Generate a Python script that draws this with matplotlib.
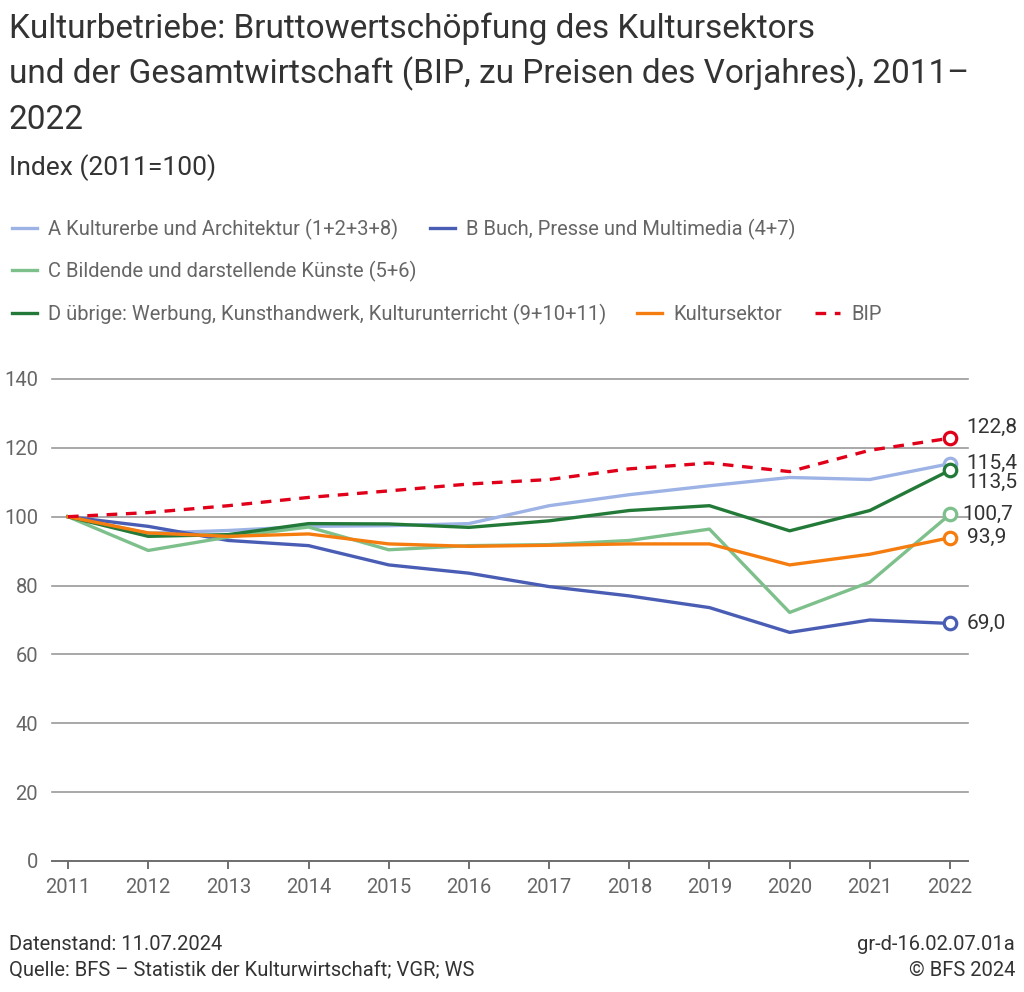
import matplotlib
matplotlib.use("Agg")
import matplotlib.pyplot as plt
from matplotlib.lines import Line2D

plt.rcParams['font.family'] = ['Roboto', 'DejaVu Sans']

years = [2011, 2012, 2013, 2014, 2015, 2016, 2017, 2018, 2019, 2020, 2021, 2022]

series_names = [
    "A Kulturerbe und Architektur (1+2+3+8)",
    "B Buch, Presse und Multimedia (4+7)",
    "C Bildende und darstellende Künste (5+6)",
    "D übrige: Werbung, Kunsthandwerk, Kulturunterricht (9+10+11)",
    "Kultursektor",
    "BIP",
]

a_values = [100, 95.2, 96.0, 97.2, 97.4, 98.0, 103.2, 106.4, 109.0, 111.4, 110.8, 115.4]
b_values = [100, 97.2, 93.1, 91.6, 86.0, 83.6, 79.7, 77.0, 73.6, 66.4, 70.0, 69.0]
c_values = [100, 90.2, 94.1, 97.0, 90.4, 91.6, 91.9, 93.1, 96.4, 72.2, 81.0, 100.7]
d_values = [100, 94.3, 94.8, 98.0, 97.9, 96.9, 98.8, 101.8, 103.2, 95.9, 101.8, 113.5]
kultur_values = [100, 95.3, 94.3, 95.0, 92.1, 91.4, 91.7, 92.1, 92.1, 86.0, 89.1, 93.9]
bip_values = [100, 101.2, 103.2, 105.6, 107.5, 109.5, 110.8, 113.9, 115.6, 113.1, 119.3, 122.8]

end_labels = ["115,4", "69,0", "100,7", "113,5", "93,9", "122,8"]

y_ticks = [0, 20, 40, 60, 80, 100, 120, 140]

colors = ["#9db3e6", "#4a5db5", "#7ec08c", "#237a38", "#f57d0f", "#e1001a"]
styles = ["-", "-", "-", "-", "-", (0, (3.2, 2.6))]
label_offsets_pt = [0, 0, 0, -9, 0, 8]   # vertical offsets for end labels (collision avoidance)
label_dx_pt = [12, 12, 9, 12, 12, 12]
draw_order = [2, 0, 1, 3, 4, 5]

all_values = [a_values, b_values, c_values, d_values, kultur_values, bip_values]

W, H = 1024, 992
fig = plt.figure(figsize=(W / 100, H / 100), dpi=100)

def fx(px):
    return px / W

def fy(py):
    return 1 - py / H

ax = fig.add_axes([fx(52), fy(861), fx(968) - fx(52), fy(379) - fy(861)])
ax.set_xlim(2011 - 16 / 80.18, 2022 + 18 / 80.18)
ax.set_ylim(0, 140)

for yt in y_ticks:
    if yt == 0:
        continue
    ax.axhline(yt, color="#9a9a9a", lw=1.2, zorder=1, clip_on=False)
ax.axhline(0, color="#6e6e6e", lw=1.4, zorder=1, clip_on=False)

for side in ["top", "right", "left", "bottom"]:
    ax.spines[side].set_visible(False)

ax.set_yticks(y_ticks)
ax.set_yticklabels([str(v) for v in y_ticks])
ax.set_xticks(years)
ax.set_xticklabels([str(y) for y in years])
ax.tick_params(axis="y", length=0, pad=10, labelsize=14.5, labelcolor="#666666")
ax.tick_params(axis="x", length=6, width=1.4, color="#6e6e6e", pad=6,
               labelsize=14.5, labelcolor="#666666", direction="out")

for i in draw_order:
    vals = all_values[i]
    ax.plot(years, vals, color=colors[i], lw=2.4, linestyle=styles[i],
            solid_joinstyle="round", zorder=3 + i, clip_on=False)
    ax.plot(years[-1], vals[-1], marker="o", markersize=9, markerfacecolor="white",
            markeredgecolor=colors[i], markeredgewidth=2.3, zorder=10 + i,
            clip_on=False, linestyle="none")
    ax.annotate(end_labels[i], xy=(years[-1], vals[-1]),
                xytext=(label_dx_pt[i], label_offsets_pt[i]), textcoords="offset points",
                ha="left", va="center", fontsize=15, color="#333333",
                annotation_clip=False)

# Title and subtitle
title_lines = [
    "Kulturbetriebe: Bruttowertschöpfung des Kultursektors",
    "und der Gesamtwirtschaft (BIP, zu Preisen des Vorjahres), 2011–",
    "2022",
]
for k, line in enumerate(title_lines):
    fig.text(fx(9), fy(38 + 45.5 * k), line, fontsize=24, color="#333333",
             ha="left", va="baseline")
fig.text(fx(9), fy(175), "Index (2011=100)", fontsize=19, color="#333333",
         ha="left", va="baseline")

# Legend (manual layout)
legend_pos = [(12, 228), (430, 228), (12, 270), (12, 313), (637, 313), (815, 313)]
for i, (lx, ly) in enumerate(legend_pos):
    fig.add_artist(Line2D([fx(lx), fx(lx + 25)], [fy(ly), fy(ly)],
                          transform=fig.transFigure, color=colors[i], lw=2.4,
                          linestyle=styles[i]))
    fig.text(fx(lx + 36), fy(ly + 1), series_names[i], fontsize=14.5, color="#666666",
             ha="left", va="center")

# Footer
fig.text(fx(9), fy(950), "Datenstand: 11.07.2024", fontsize=14.5, color="#333333",
         ha="left", va="baseline")
fig.text(fx(9), fy(976), "Quelle: BFS – Statistik der Kulturwirtschaft; VGR; WS",
         fontsize=14.5, color="#333333", ha="left", va="baseline")
fig.text(fx(1015), fy(950), "gr-d-16.02.07.01a", fontsize=14.5, color="#333333",
         ha="right", va="baseline")
fig.text(fx(1015), fy(976), "© BFS 2024", fontsize=14.5, color="#333333",
         ha="right", va="baseline")

fig.savefig("out.png", dpi=100, facecolor="white")
